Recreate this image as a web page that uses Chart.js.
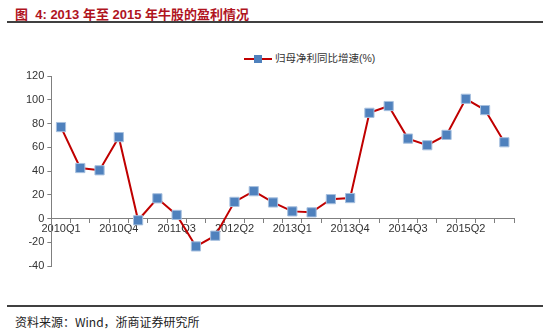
<!DOCTYPE html>
<html>
<head>
<meta charset="utf-8">
<script src="https://cdn.jsdelivr.net/npm/chart.js@4.4.0/dist/chart.umd.min.js"></script>
<style>
body{margin:0;background:#fff;width:550px;height:332px;position:relative;overflow:hidden;font-family:"Liberation Sans","Noto Sans CJK SC",sans-serif;}
#title{position:absolute;left:15px;top:4px;font-size:13px;font-weight:bold;color:#b0141e;white-space:nowrap;}
.rule{position:absolute;left:7px;width:536px;height:2px;background:#404040;}
#source{position:absolute;left:15px;top:313px;font-size:12px;color:#222;font-family:"Noto Sans CJK SC",serif;}
#legend{position:absolute;left:244px;top:50px;font-size:10.5px;color:#333;white-space:nowrap;}
#legend .ln{display:inline-block;width:28px;height:2px;background:#c00000;position:relative;vertical-align:middle;margin-right:3px;}
#legend .ln i{position:absolute;left:10px;top:-3px;width:8px;height:8px;background:#4f81bd;}
#wrap{position:absolute;left:0;top:30px;width:550px;height:260px;}
</style>
</head>
<body>
<div id="title">图&nbsp; 4: 2013 年至 2015 年牛股的盈利情况</div>
<div class="rule" style="top:21px"></div>
<div id="legend"><span class="ln"><i></i></span>归母净利同比增速(%)</div>
<div id="wrap"><canvas id="chart"></canvas></div>
<div class="rule" style="top:305px"></div>
<div id="source">资料来源：Wind，浙商证券研究所</div>
<script>
// 季度
const quarters=['2010Q1','2010Q2','2010Q3','2010Q4','2011Q1','2011Q2','2011Q3','2011Q4',
'2012Q1','2012Q2','2012Q3','2012Q4','2013Q1','2013Q2','2013Q3','2013Q4',
'2014Q1','2014Q2','2014Q3','2014Q4','2015Q1','2015Q2','2015Q3','2015Q4'];
// 归母净利同比增速(%)
const growth=[77,42.5,40.6,68.5,-1.5,17,3,-23.5,-14.5,14,23,13.5,6,5.2,16.3,17.2,89,94.7,67.3,61.7,70.4,100.8,91.3,64.2];
const yTicks=[-40,-20,0,20,40,60,80,100,120];

const axisColor='#7f7f7f';
const ctx=document.getElementById('chart').getContext('2d');
new Chart(ctx,{
    type:'line',
    data:{
        labels:quarters,
        datasets:[{
            label:'归母净利同比增速(%)',
            data:growth,
            borderColor:'#c00000',
            borderWidth:2,
            pointStyle:'rect',
            pointRadius:6.5,
            pointBackgroundColor:'#4f81bd',
            pointBorderColor:'#a7c0df',
            pointBorderWidth:1,
            tension:0
        }]
    },
    options:{
        responsive:true,
        maintainAspectRatio:false,
        animation:false,
        layout:{padding:{top:46,bottom:24,left:23,right:36}},
        plugins:{legend:{display:false},tooltip:{enabled:false}},
        scales:{
            x:{
                position:{y:0},
                offset:true,
                grid:{offset:true,drawOnChartArea:false,tickLength:4,color:axisColor},
                border:{color:axisColor,width:1},
                ticks:{
                    autoSkip:false,maxRotation:0,padding:0,
                    color:'#333',font:{family:'Liberation Sans',size:11},
                    callback:(v,i)=>i%3===0?quarters[i]:''
                }
            },
            y:{
                min:-40,max:120,
                afterBuildTicks:s=>{s.ticks=yTicks.map(v=>({value:v}));},
                grid:{drawOnChartArea:false,tickLength:4,color:axisColor},
                border:{color:axisColor,width:1},
                ticks:{color:'#333',padding:3,font:{family:'Liberation Sans',size:11}}
            }
        }
    }
});
</script>
</body>
</html>
